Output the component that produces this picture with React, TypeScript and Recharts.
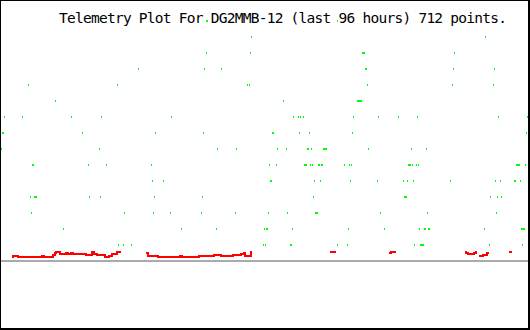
import React from "react";
import { ComposedChart, Scatter, Line, XAxis, YAxis, ReferenceLine } from "recharts";

// Telemetry bit channels: channel number -> time slots (x) where the bit was set
const ch15 = [206, 207, 337];
const ch14 = [251, 485];
const ch13 = [206, 250, 362, 363, 364, 454];
const ch12 = [138, 204, 221, 365, 366, 453, 494];
const ch11 = [28, 117, 247, 249, 367, 452, 493];
const ch10 = [55, 283, 357, 358, 359, 360, 361];
const ch9 = [4, 22, 71, 101, 171, 293, 298, 300, 303, 353, 378, 398, 417, 498, 527, 528];
const ch8 = [2, 3, 82, 155, 203, 272, 273, 299, 309, 352, 526];
const ch7 = [1, 99, 217, 236, 277, 286, 307, 308, 311, 323, 324, 325, 326, 368, 411, 426];
const ch6 = [32, 33, 88, 106, 151, 269, 276, 304, 305, 306, 310, 312, 318, 319, 321, 322, 344, 349, 351, 408, 409, 410, 412, 416, 418, 516, 517, 518, 519, 525];
const ch5 = [152, 163, 270, 271, 314, 320, 350, 377, 403, 407, 413, 450, 495, 500, 514, 515, 520];
const ch4 = [30, 34, 35, 36, 89, 100, 154, 202, 313, 404, 405, 406, 490, 497, 501];
const ch3 = [31, 124, 153, 170, 201, 235, 268, 287, 315, 316, 317, 380, 427, 496];
const ch2 = [63, 181, 216, 264, 266, 267, 292, 348, 384, 419, 424, 425, 428, 429, 484, 521, 522, 523, 524];
const ch1 = [118, 123, 131, 263, 265, 290, 291, 337, 347, 414, 420, 421, 422, 423, 489, 522];

const channels: number[][] = [ch1, ch2, ch3, ch4, ch5, ch6, ch7, ch8, ch9, ch10, ch11, ch12, ch13, ch14, ch15];

// Analog value trace (time slot, value); null = no data
const analogX = [
  12, 13, 18, 42, 44, 53, 55, 56, 60, 66, 68, 71, 73, 86, 92, 94, 97, 105, 109, 112, 117, 121, 122,
  146, 148, 158, 180, 182, 199, 214, 221, 233, 241, 244, 245, 251, 252, 253,
  330, 336, 337,
  389, 391, 396, 397,
  465, 466, 468, 474, 476, 477, 478,
  479, 483, 487, 489, 490,
  509, 512,
];
const analogV: (number | null)[] = [
  4, 5, 4, 5, 4, 6, 8, 9, 7, 8, 7, 8, 7, 6, 9, 7, 6, 4, 5, 7, 9, 9, null,
  8, 5, 4, 5, 4, 5, 6, 5, 6, 7, 8, 5, 9, 9, null,
  9, 9, null,
  8, 9, 9, null,
  9, 8, 7, 8, 9, 9, null,
  5, 6, 8, 8, null,
  9, 9,
];

const TITLE = "Telemetry Plot For DG2MMB-12 (last 96 hours) 712 points.";

const greenData = channels.flatMap((xs, i) => xs.map((x) => ({ x, k: i + 1 })));
const redData = analogX.map((x, i) => ({ x, v: analogV[i] }));

const BitShape = (props: any) => {
  const { cx, cy } = props;
  if (cx == null || cy == null) return null;
  return <rect x={cx} y={cy - 1} width={1} height={2} fill="#00ff00" />;
};

export default function App() {
  return (
    <div style={{ position: "relative", width: 530, height: 330, background: "#fff" }}>
      <style>{"body{margin:0;}"}</style>
      <ComposedChart
        width={530}
        height={330}
        margin={{ top: 5, right: 0, bottom: 69, left: 0 }}
        style={{ background: "#fff" }}
      >
        <XAxis type="number" dataKey="x" domain={[0, 530]} hide allowDataOverflow />
        <YAxis yAxisId="bits" type="number" dataKey="k" domain={[0, 16]} hide allowDataOverflow />
        <YAxis yAxisId="val" type="number" dataKey="v" domain={[0, 256]} hide allowDataOverflow />
        <ReferenceLine yAxisId="val" y={0} stroke="#aaaaaa" strokeWidth={2} />
        <Scatter
          yAxisId="bits"
          data={greenData}
          dataKey="k"
          shape={BitShape}
          isAnimationActive={false}
        />
        <Line
          yAxisId="val"
          data={redData}
          dataKey="v"
          type="stepAfter"
          stroke="#ff0000"
          strokeWidth={2}
          dot={false}
          activeDot={false}
          connectNulls={false}
          isAnimationActive={false}
        />
        <text
          x={59}
          y={23}
          fontFamily="DejaVu Sans Mono"
          fontSize={14.5}
          textLength={448}
          lengthAdjust="spacing"
          fill="#000"
        >
          {TITLE}
        </text>
      </ComposedChart>
      <div
        style={{
          position: "absolute",
          left: 0,
          top: 0,
          width: 530,
          height: 330,
          boxSizing: "border-box",
          borderLeft: "1px solid #000",
          borderTop: "1px solid #000",
          borderRight: "2px solid #000",
          borderBottom: "2px solid #000",
          pointerEvents: "none",
        }}
      />
    </div>
  );
}
